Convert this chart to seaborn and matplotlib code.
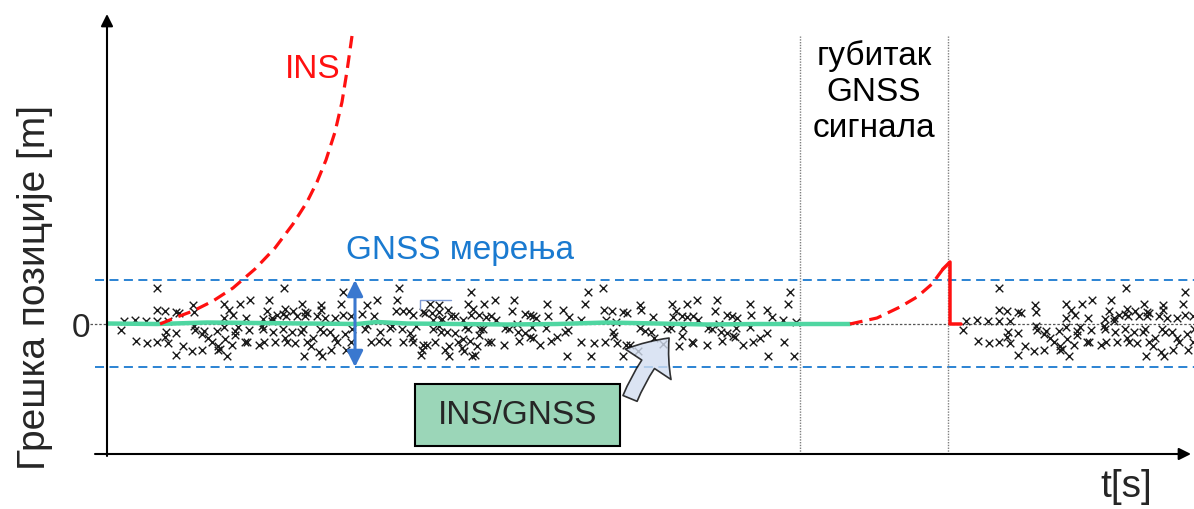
import numpy as np
import pandas as pd
import matplotlib.pyplot as plt
from matplotlib.patches import Rectangle, FancyArrowPatch
import seaborn as sns

# ── Setup ──────────────────────────────────────────────────────────────────────
sns.set_theme(style="white")
plt.rcParams["font.family"] = ["Liberation Sans", "DejaVu Sans"]

# ── Data ───────────────────────────────────────────────────────────────────────
# GNSS measurements (time [s], position error [m]) before the signal outage
t_gnss = [
    5.0, 5.0, 5.8, 6.9, 7.2, 8.6, 8.7, 11.7, 12.2, 13.3, 14.3, 16.2, 16.0, 12.6, 11.7,
    13.9, 15.6, 16.5, 1.7, 2.8, 3.9, 5.0, 6.1, 1.4, 2.9, 4.0, 5.0, 5.9, 5.8, 6.1,
    6.9, 7.6, 6.9, 8.5, 8.7, 8.8, 9.7, 9.5, 10.1, 10.5, 9.5, 11.0, 11.1, 11.1, 11.3,
    11.7, 11.8, 12.0, 12.5, 12.8, 13.1, 12.8, 14.2, 13.8, 14.0, 15.5, 15.6, 15.7, 15.2, 16.5,
    16.6, 16.8, 17.0,
    17.7, 23.6, 23.4, 19.5, 17.8, 18.6, 19.8, 20.0, 21.4, 21.4, 17.6, 17.9, 19.0, 19.8, 21.0,
    21.8, 22.8, 23.6, 24.4, 25.5, 26.0, 27.0, 26.7, 29.2, 29.0, 28.9, 29.6, 30.2, 30.6, 31.6,
    31.8, 32.3, 33.2, 32.5, 33.2, 34.1, 32.6, 33.4, 34.4, 17.6, 18.5, 17.8, 18.0, 18.8, 19.6,
    19.4, 20.0, 20.6, 20.4, 21.3, 21.6, 22.3, 22.8, 23.0, 22.4, 21.2, 21.5, 19.7, 23.8, 23.9,
    24.4, 24.5, 25.8, 26.0, 26.4, 27.2, 27.3, 28.0, 28.3, 28.5, 29.5, 29.6, 30.3, 30.5, 30.6,
    30.9, 31.5, 31.4, 31.6, 32.0, 32.8, 32.6, 33.2, 33.4, 34.0, 33.8, 34.2, 34.2, 33.5,
    36.4, 36.1, 37.7, 38.8, 40.7, 40.5, 36.6, 36.4, 37.2, 37.9, 38.4, 38.9, 35.6, 34.8, 41.8,
    42.3, 42.6, 42.9, 44.0, 44.1, 45.6, 46.2, 47.4, 47.8, 48.1, 49.6, 49.7, 50.5, 51.6, 52.0,
    49.9, 50.9, 35.8, 36.1, 37.3, 37.6, 39.8, 40.2, 41.0, 41.1, 41.8, 42.5, 42.3, 42.6, 43.9,
    41.2, 34.8, 35.1, 35.6, 36.3, 37.0, 35.5, 35.7, 37.2, 38.1, 38.4, 39.7, 36.5, 36.8, 43.3,
    44.4, 45.0, 45.8, 46.1, 46.0, 47.4, 48.4, 48.7, 49.8, 50.6, 50.7, 51.0, 51.9, 51.6,
    68.3, 68.1, 53.3, 53.4, 56.5, 58.0, 59.0, 61.0, 60.8, 64.3, 66.0, 64.4, 56.9, 57.5, 56.6,
    58.0, 58.6, 59.1, 54.6, 62.0, 62.5, 63.0, 66.5, 67.6, 68.9, 53.3, 53.8, 54.4, 56.0, 56.4,
    57.6, 57.5, 57.2, 58.5, 58.6, 60.1, 60.5, 61.2, 61.4, 62.0, 61.5, 62.6, 62.9, 62.8, 63.6,
    64.3, 64.6, 65.3, 66.0, 60.0, 66.1, 67.7, 68.7, 53.1, 52.3, 54.7, 55.6,
]
err_gnss = [
    3.6, 1.4, 1.3, 1.2, 1.1, 1.9, 1.2, 2.0, 1.4, 2.0, 2.4, 2.4, 1.3, 0.9, 0.6,
    0.6, 0.5, 0.6, 0.3, 0.4, 0.3, 0.3, 0.3, -0.6, -1.7, -1.9, -1.8, -0.8, -1.3, -1.9,
    -0.9, -2.2, -3.1, -2.7, -0.2, -0.6, -0.7, -1.0, -1.4, -1.8, -2.6, -0.7, -2.2, -2.6, -2.5,
    -0.3, -1.5, -3.2, -2.1, -0.7, -0.3, -1.1, -0.6, -1.8, -1.8, -0.2, -0.5, -1.8, -2.1, 0.3,
    -0.8, -1.8, 0.9,
    3.6, 3.2, 2.0, 2.0, 1.5, 1.3, 1.2, 1.1, 1.9, 1.4, 1.0, 0.8, 0.8, 0.8, 0.8,
    0.6, 0.6, 0.9, 0.8, 1.0, 1.9, 2.4, 0.8, 3.6, 2.4, 1.3, 1.3, 1.3, 0.9, 1.2,
    1.1, 2.0, 1.9, 1.1, 1.2, 1.4, 0.4, 0.4, 0.8, -0.5, -0.8, -1.4, -1.8, -1.9, -0.5,
    -0.8, -1.8, -1.4, -2.2, -0.5, -0.8, -0.8, -1.4, -1.8, -2.6, -2.8, -3.2, -3.2, -1.0, -2.6,
    -1.8, -0.5, -0.5, -0.1, -1.8, -1.7, -0.8, -1.8, -0.4, -0.2, -0.5, -1.8, -0.9, -1.4, -1.8,
    -0.2, -2.6, -3.1, -2.1, -2.1, -1.8, -0.5, -0.2, -0.8, -0.8, -2.6, -2.2, -3.2, 0.5,
    3.2, 2.0, 2.0, 2.4, 2.4, 1.3, 1.5, 0.9, 0.9, 0.7, 0.8, 0.4, 0.4, 0.8, 1.0,
    0.9, 0.8, 0.6, 2.0, 0.8, 1.4, 0.7, 0.4, 2.0, 3.2, 3.6, 1.4, 1.3, 1.2, 1.1,
    0.4, 0.2, -0.3, -0.5, -0.5, -0.5, -0.4, -0.5, 0.0, -0.8, -0.9, -0.3, -1.3, -1.4, -0.4,
    -1.7, -0.9, -1.8, -1.5, -1.7, -2.2, -2.4, -2.7, -1.1, -1.8, -1.8, -2.1, -3.2, -3.1, -2.1,
    -1.7, -1.3, -0.8, -0.6, -3.2, -1.8, -3.2, -1.9, -1.8, -0.8, -1.2, -1.9, -2.1, -3.2,
    3.2, 2.0, 1.9, 1.4, 2.0, 2.0, 2.4, 2.4, 1.3, 2.0, 1.4, 0.9, 1.3, 0.8, 0.7,
    0.7, 0.8, 0.4, 0.7, 0.9, 0.8, 0.6, 0.7, 0.4, 0.2, -0.4, -0.7, -0.8, -0.5, -0.4,
    -0.4, -1.2, -2.2, -1.8, -1.9, -0.4, -0.5, 0.0, -0.8, -0.9, -1.7, -1.2, -0.4, -1.3, -2.1,
    -0.3, -1.8, -1.4, -0.9, -2.1, -3.2, -1.8, -3.2, -2.7, -2.1, -1.4, -2.0,
]
# after the outage the picture repeats the first 24.5 s of measurements
repeat_until = 24.6
repeat_offset = 84.2

# INS alone (drifting error)
t_ins = [5.3, 7.0, 8.6, 10.6, 12.6, 14.8, 16.8, 18.6, 20.0, 21.0, 21.9, 22.8, 23.5, 24.0, 24.5]
err_ins = [0.0, 0.7, 1.3, 2.3, 3.6, 5.5, 7.6, 10.0, 12.2, 14.2, 16.4, 19.2, 22.2, 25.3, 28.8]

# INS/GNSS solution
t_fused = [0, 5, 10, 15, 20, 25, 27, 30, 35, 40, 45, 50, 55, 60, 65, 70, 74.3]
err_fused = [0.05, 0.0, 0.15, 0.1, 0.05, 0.0, 0.2, 0.05, 0.0, -0.05, 0.0, 0.15, 0.05, -0.05, 0.0, 0.0, 0.0]

# INS during GNSS outage and reset when GNSS returns
t_drift = [74.3, 77.0, 79.3, 81.0, 82.5, 83.6]
err_drift = [0.0, 0.6, 1.7, 2.7, 4.0, 5.5]
t_reset = [83.6, 84.3, 84.3, 85.4]
err_reset = [5.5, 6.2, 0.0, 0.0]

outage = [69.3, 84.1]
gnss_band = [4.4, -4.3]

# ── Figure ─────────────────────────────────────────────────────────────────────
fig = plt.figure(figsize=(11.94, 5.10), dpi=100)
ax = fig.add_axes([107 / 1194, 55 / 510, 1 - 107 / 1194, 440 / 510])

# reference lines
ax.plot([-1.7, 108.7], [0, 0], color="#555555", lw=0.9, ls=(0, (2, 1.5)), clip_on=False, zorder=1)
for y in gnss_band:
    ax.plot([-1.2, 108.7], [y, y], color="#1a7ad0", lw=1.3, ls=(0, (5, 3)), clip_on=False, zorder=1)
ax.vlines(outage, -13, 28.8, colors="#7f7f7f", lw=1.0, linestyles=(0, (1, 1)), zorder=1)

# GNSS measurements
gnss = pd.DataFrame({"t": t_gnss, "err": err_gnss})
after = gnss[gnss["t"] < repeat_until].assign(t=lambda d: d["t"] + repeat_offset)
for d in (gnss, after):
    sns.scatterplot(data=d, x="t", y="err", marker="x", s=30, color="#1a1a1a",
                    linewidth=1.0, ax=ax, zorder=2, clip_on=False, legend=False)

# INS/GNSS fused
sns.lineplot(x=t_fused, y=err_fused, color="#4fd6a1", lw=3.2, ax=ax, zorder=3,
             estimator=None, sort=False)
# INS drift
sns.lineplot(x=t_ins, y=err_ins, color="#ff1010", lw=2.3, ax=ax, zorder=4,
             estimator=None, sort=False).lines[-1].set_dashes((4, 2.2))
sns.lineplot(x=t_drift, y=err_drift, color="#ff1010", lw=2.3, ax=ax, zorder=4,
             estimator=None, sort=False).lines[-1].set_dashes((4, 2.2))
sns.lineplot(x=t_reset, y=err_reset, color="#ff1010", lw=2.5, ax=ax, zorder=4,
             estimator=None, sort=False)

ax.set_xlim(0, 108.7)
ax.set_ylim(-13, 31)
ax.set_xlabel("")
ax.set_ylabel("")
for s in ax.spines.values():
    s.set_visible(False)
ax.set_xticks([])
ax.set_yticks([0])
ax.set_yticklabels(["0"], fontsize=24)
ax.tick_params(axis="y", length=0, pad=12)

# axes with arrows
arrow_kw = dict(arrowstyle="-|>", color="black", lw=1.5, mutation_scale=18, shrinkA=0, shrinkB=0)
ax.annotate("", xy=(0, 31), xytext=(0, -13.2), arrowprops=arrow_kw, annotation_clip=False)
ax.annotate("", xy=(108.4, -13), xytext=(-1.2, -13), arrowprops=arrow_kw, annotation_clip=False)

# GNSS accuracy band arrow
ax.annotate("", xy=(24.8, gnss_band[0]), xytext=(24.8, gnss_band[1]),
            arrowprops=dict(arrowstyle="<|-|>", color="#3a78cf", lw=2.2,
                            mutation_scale=24, shrinkA=0, shrinkB=0), zorder=5)
ax.plot([31.3, 31.3, 34.4], [1.5, 2.4, 2.4], color="#7f9bd6", lw=1.0, zorder=2)

# labels
ax.text(20.6, 25.5, "INS", color="#ff1010", fontsize=24, ha="center", va="center")
ax.text(35.3, 7.4, "GNSS мерења", color="#1a7ad0", fontsize=24, ha="center", va="center")
ax.text(76.7, 23.3, "губитак\nGNSS\nсигнала", color="black", fontsize=24,
        ha="center", va="center", linespacing=1.2)

ax.add_patch(Rectangle((30.8, -12.2), 20.5, 6.2, fc="#9bd6b8", ec="black", lw=1.5, zorder=6))
ax.text(41.05, -9.1, "INS/GNSS", fontsize=24, ha="center", va="center", zorder=7)
ax.add_patch(FancyArrowPatch((52.2, -7.7), (56.4, -1.2),
                             arrowstyle="simple,head_width=1.8,head_length=1.1,tail_width=0.5",
                             connectionstyle="arc3,rad=-0.1", mutation_scale=22,
                             fc="#d3def0", ec="black", lw=1.2, alpha=0.8, zorder=6))

fig.text(35 / 1194, 1 - 288 / 510, "Грешка позиције [m]", rotation=90, fontsize=28,
         ha="center", va="center")
fig.text(1126 / 1194, 1 - 487 / 510, "t[s]", fontsize=28, ha="center", va="center")

plt.savefig("out.png", dpi=100)
plt.close()
